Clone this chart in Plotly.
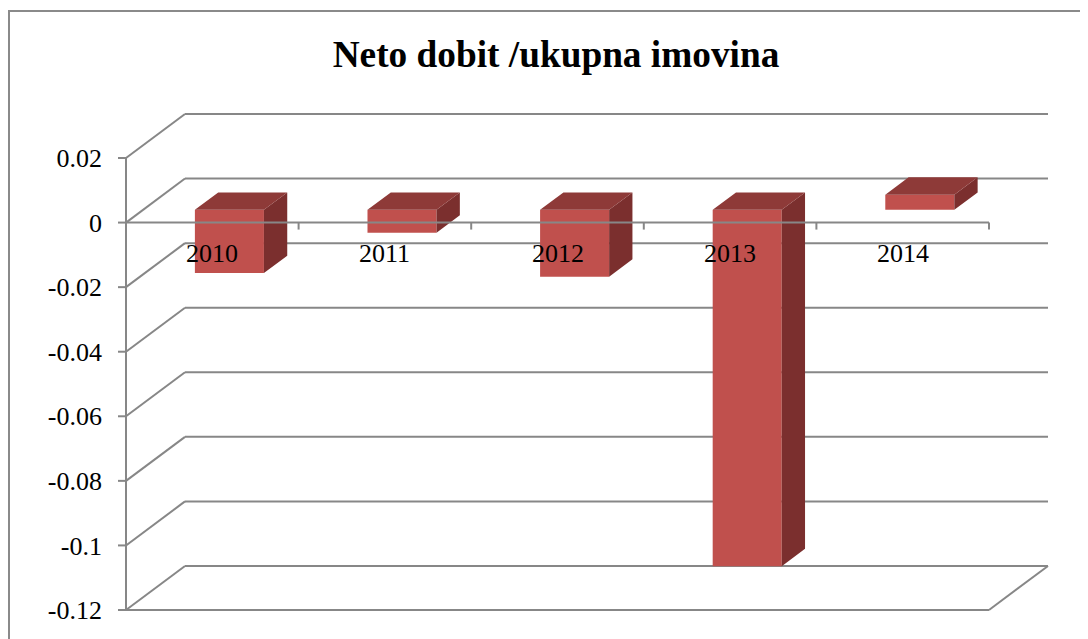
import plotly.graph_objects as go

# ---------------- data ----------------
categories = ["2010", "2011", "2012", "2013", "2014"]
values = [-0.0196, -0.0071, -0.0207, -0.1104, 0.0047]
tick_vals = [0.02, 0, -0.02, -0.04, -0.06, -0.08, -0.1, -0.12]
tick_text = ["0.02", "0", "-0.02", "-0.04", "-0.06", "-0.08", "-0.1", "-0.12"]
title_text = "Neto dobit /ukupna imovina"

# ---------------- geometry / style ----------------
OFF = 8               # page body margin in the viewer
W, H = 1088 - OFF, 639 - OFF
PX_X = 172.6          # px per category
PX_Y = 3228.0         # px per value unit
DEPTH_X = 59 / PX_X   # 3D depth offset (x units)
DEPTH_Y = 44 / PX_Y   # 3D depth offset (y units)
Y_MIN, Y_MAX = min(tick_vals), max(tick_vals)
N = len(categories)
D0, D1 = 0.29, 0.685  # bar front/back depth fractions
BAR_W = 0.40
GRID = "#878787"
FRONT, TOP, SIDE = "#C0504D", "#8E3A38", "#7B2F2E"
FONT = "Liberation Serif, Times New Roman, serif"

pad_l, pad_r, pad_t, pad_b = 10, 3, 3, 3
x0r = -pad_l / PX_X
x1r = N + DEPTH_X + pad_r / PX_X
y0r = Y_MIN - pad_b / PX_Y
y1r = Y_MAX + DEPTH_Y + pad_t / PX_Y
left_px = 126 - OFF - pad_l
top_px = 114 - OFF - pad_t
plot_w = (x1r - x0r) * PX_X
plot_h = (y1r - y0r) * PX_Y
m_r = W - left_px - plot_w
m_b = H - top_px - plot_h

fig = go.Figure()

# front faces of bars (library bars, shifted to the bar depth)
shift_x = D0 * DEPTH_X
shift_y = D0 * DEPTH_Y
xc = [i + 0.5 + shift_x for i in range(N)]
fig.add_trace(go.Bar(
    x=xc, y=values, base=[shift_y] * N, width=[BAR_W] * N,
    marker=dict(color=FRONT, line=dict(width=0)),
    hoverinfo="skip", showlegend=False,
))

# side and top faces
ddx = (D1 - D0) * DEPTH_X
ddy = (D1 - D0) * DEPTH_Y
sx, sy, tx, ty = [], [], [], []
for i, v in enumerate(values):
    xl, xr = xc[i] - BAR_W / 2, xc[i] + BAR_W / 2
    lo, hi = shift_y + min(v, 0), shift_y + max(v, 0)
    sx += [xr, xr, xr + ddx, xr + ddx, xr, None]
    sy += [lo, hi, hi + ddy, lo + ddy, lo, None]
    tx += [xl, xr, xr + ddx, xl + ddx, xl, None]
    ty += [hi, hi, hi + ddy, hi + ddy, hi, None]
fig.add_trace(go.Scatter(x=sx, y=sy, mode="lines", fill="toself", fillcolor=SIDE,
                         line=dict(width=0, color=SIDE), hoverinfo="skip", showlegend=False))
fig.add_trace(go.Scatter(x=tx, y=ty, mode="lines", fill="toself", fillcolor=TOP,
                         line=dict(width=0, color=TOP), hoverinfo="skip", showlegend=False))

shapes = []
line_style = dict(color=GRID, width=2)
# back wall gridlines + left-wall diagonals
for v in tick_vals:
    shapes.append(dict(type="line", xref="x", yref="y", layer="below",
                       x0=DEPTH_X, x1=N + DEPTH_X, y0=v + DEPTH_Y, y1=v + DEPTH_Y, line=line_style))
    shapes.append(dict(type="line", xref="x", yref="y", layer="below",
                       x0=0, x1=DEPTH_X, y0=v, y1=v + DEPTH_Y, line=line_style))
# floor front edge and right diagonal
shapes.append(dict(type="line", xref="x", yref="y", layer="below",
                   x0=0, x1=N, y0=Y_MIN, y1=Y_MIN, line=line_style))
shapes.append(dict(type="line", xref="x", yref="y", layer="below",
                   x0=N, x1=N + DEPTH_X, y0=Y_MIN, y1=Y_MIN + DEPTH_Y, line=line_style))
# vertical value axis
shapes.append(dict(type="line", xref="x", yref="y", layer="above",
                   x0=0, x1=0, y0=Y_MIN, y1=Y_MAX, line=line_style))
# value-axis tick marks
for v in tick_vals:
    shapes.append(dict(type="line", xref="x", yref="y", layer="above",
                       x0=-8 / PX_X, x1=0, y0=v, y1=v, line=line_style))
# category axis at zero with tick marks at boundaries
shapes.append(dict(type="line", xref="x", yref="y", layer="above",
                   x0=0, x1=N, y0=0, y1=0, line=line_style))
for i in range(N + 1):
    shapes.append(dict(type="line", xref="x", yref="y", layer="above",
                       x0=i, x1=i, y0=0, y1=-7 / PX_Y, line=line_style))
# outer chart border
plot_bottom_px = top_px + plot_h
shapes.append(dict(type="rect", xref="paper", yref="paper", layer="below",
                   x0=(1 - left_px) / plot_w, x1=(W + 10 - left_px) / plot_w,
                   y0=(plot_bottom_px - (H + 10)) / plot_h, y1=(plot_bottom_px - 3) / plot_h,
                   line=dict(color="#8a8a8a", width=2), fillcolor="rgba(0,0,0,0)"))

annotations = []
for i, c in enumerate(categories):
    annotations.append(dict(x=i + 0.5, y=0, xref="x", yref="y", text=c, showarrow=False,
                            yshift=-31, font=dict(family=FONT, size=26, color="black")))

fig.update_layout(
    width=W, height=H, autosize=False,
    margin=dict(l=left_px, r=m_r, t=top_px, b=m_b, pad=0),
    paper_bgcolor="white", plot_bgcolor="white",
    showlegend=False, hovermode=False,
    title=dict(text="<b>" + title_text + "</b>", x=(556 - OFF) / W, xanchor="center",
               y=1 - (54 - OFF) / H, yanchor="middle", yref="container",
               font=dict(family=FONT, size=37.3, color="black")),
    xaxis=dict(range=[x0r, x1r], visible=False, showgrid=False, zeroline=False, fixedrange=True),
    yaxis=dict(range=[y0r, y1r], showgrid=False, zeroline=False, showline=False,
               tickmode="array", tickvals=tick_vals, ticktext=tick_text, ticks="",
               ticklabelstandoff=13,
               tickfont=dict(family=FONT, size=26, color="black"), fixedrange=True),
    shapes=shapes, annotations=annotations,
    barmode="overlay",
)

fig.write_html("out.html")
